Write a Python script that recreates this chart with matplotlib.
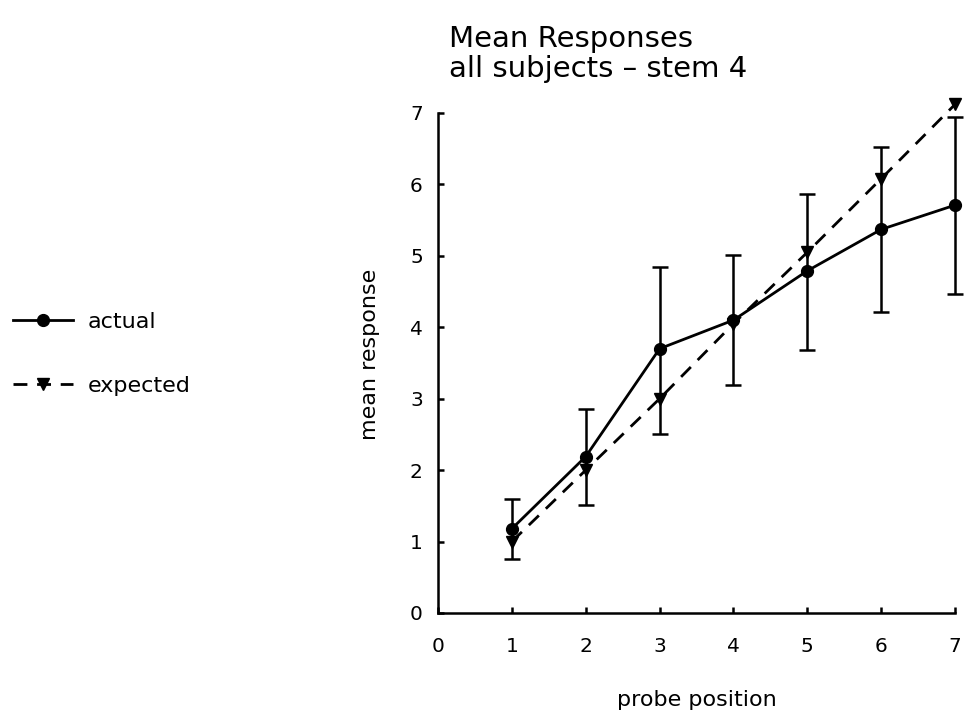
import matplotlib
matplotlib.use("Agg")
import matplotlib.pyplot as plt

# values
probe = [1, 2, 3, 4, 5, 6, 7]
actual = [1.18, 2.19, 3.70, 4.10, 4.79, 5.37, 5.71]
expected = [1.00, 2.00, 3.00, 4.05, 5.05, 6.08, 7.12]
err_top = [1.60, 2.85, 4.85, 5.01, 5.87, 6.53, 6.94]
err_bottom = [0.76, 1.51, 2.51, 3.19, 3.68, 4.22, 4.47]

plt.rcParams["font.family"] = ["DejaVu Sans"]

fig = plt.figure(figsize=(9.64, 7.16), dpi=100)
ax = fig.add_axes([0.4544, 0.1439, 0.5363, 0.6983])

yerr = [[a - b for a, b in zip(actual, err_bottom)],
        [t - a for a, t in zip(actual, err_top)]]

ax.errorbar(probe, actual, yerr=yerr, fmt="none", ecolor="black",
            elinewidth=1.8, capsize=5.5, capthick=1.8, zorder=3, clip_on=False)
exp_line, = ax.plot(probe, expected, color="black", lw=2, dashes=(5, 3.5),
                    marker="v", markersize=8, zorder=4, clip_on=False, label="expected")
act_line, = ax.plot(probe, actual, color="black", lw=2, marker="o",
                    markersize=8.5, zorder=5, clip_on=False, label="actual")

ax.set_xlim(0, 7)
ax.set_ylim(0, 7)
ax.set_xticks(range(0, 8))
ax.set_yticks(range(0, 8))
for side in ["top", "right"]:
    ax.spines[side].set_visible(False)
for side in ["left", "bottom"]:
    ax.spines[side].set_linewidth(1.8)
ax.tick_params(direction="in", length=4.5, width=1.8, labelsize=14.5)
ax.tick_params(axis="x", pad=17)
ax.tick_params(axis="y", pad=11)

ax.set_xlabel("probe position", fontsize=16)
ax.xaxis.set_label_coords(0.5, -0.155)
ax.set_ylabel("mean response", fontsize=16)
ax.yaxis.set_label_coords(-0.112, 0.518)

fig.text(0.466, 0.934, "Mean Responses", fontsize=21, ha="left", va="baseline")
fig.text(0.466, 0.893, "all subjects \u2013 stem 4", fontsize=21, ha="left", va="baseline")

fig.legend(handles=[act_line, exp_line], loc="upper left",
           bbox_to_anchor=(0.014, 0.564), frameon=False, fontsize=16,
           numpoints=1, handlelength=2.7, handletextpad=0.65,
           labelspacing=1.95, borderpad=0, borderaxespad=0)

fig.savefig("out.png", dpi=100)
